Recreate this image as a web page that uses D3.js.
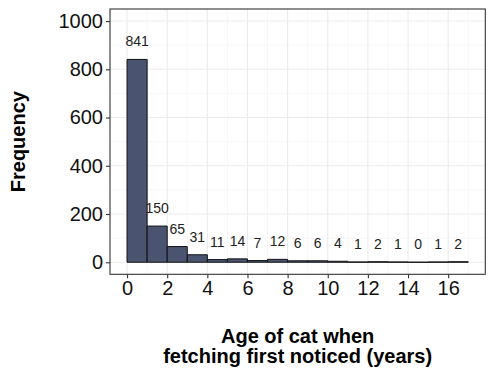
<!DOCTYPE html>
<html><head><meta charset="utf-8">
<script src="https://cdn.jsdelivr.net/npm/d3@7"></script>
<style>body{margin:0;background:#fff}svg{display:block}</style>
</head><body>
<svg id="c" width="496" height="374"></svg>
<script>
const binStarts = [0,1,2,3,4,5,6,7,8,9,10,11,12,13,14,15,16];
const counts = [841,150,65,31,11,14,7,12,6,6,4,1,2,1,0,1,2];
const xTicks = [0,2,4,6,8,10,12,14,16];
const yTicks = [0,200,400,600,800,1000];
const xTitle = ["Age of cat when","fetching first noticed (years)"];
const yTitle = "Frequency";

const svg = d3.select("#c");
const L=110, R=485.3, T=9, B=274.3;
const x = d3.scaleLinear().domain([-0.85,17.85]).range([L,R]);
const y = d3.scaleLinear().domain([-50,1050]).range([B,T]);
const font = "Liberation Sans, Arial, sans-serif";

// grid
const g = svg.append("g");
const minorX = d3.range(1,18,2), minorY = d3.range(100,1001,200);
g.selectAll(".mx").data(minorX).enter().append("line")
 .attr("x1",d=>x(d)).attr("x2",d=>x(d)).attr("y1",T).attr("y2",B)
 .attr("stroke","#f2f2f2").attr("stroke-width",0.6);
g.selectAll(".my").data(minorY).enter().append("line")
 .attr("y1",d=>y(d)).attr("y2",d=>y(d)).attr("x1",L).attr("x2",R)
 .attr("stroke","#f2f2f2").attr("stroke-width",0.6);
g.selectAll(".gx").data(xTicks).enter().append("line")
 .attr("x1",d=>x(d)).attr("x2",d=>x(d)).attr("y1",T).attr("y2",B)
 .attr("stroke","#ebebeb").attr("stroke-width",1.1);
g.selectAll(".gy").data(yTicks).enter().append("line")
 .attr("y1",d=>y(d)).attr("y2",d=>y(d)).attr("x1",L).attr("x2",R)
 .attr("stroke","#ebebeb").attr("stroke-width",1.1);

// bars (paths so zero-height bins still show their outline)
svg.append("g").selectAll("path").data(binStarts).enter().append("path")
 .attr("d",(d,i)=>{
   const x0=x(d), x1=x(d+1), y0=y(0), y1=y(counts[i]);
   return `M${x0},${y0}L${x0},${y1}L${x1},${y1}L${x1},${y0}Z`;
 })
 .attr("fill","#4a5470").attr("stroke","#111").attr("stroke-width",1);

// labels
svg.append("g").selectAll("text").data(binStarts).enter().append("text")
 .attr("x",d=>x(d+0.5)).attr("y",(d,i)=>y(counts[i])-13)
 .attr("text-anchor","middle").attr("font-family",font).attr("font-size",14)
 .attr("fill","#222").text((d,i)=>counts[i]);

// border
svg.append("rect").attr("x",L).attr("y",T).attr("width",R-L).attr("height",B-T)
 .attr("fill","none").attr("stroke","#333").attr("stroke-width",1.1);

// axes
const xa = svg.append("g").attr("transform",`translate(0,${B})`)
 .call(d3.axisBottom(x).tickValues(xTicks).tickSize(4).tickPadding(3).tickFormat(d3.format("d")));
const ya = svg.append("g").attr("transform",`translate(${L},0)`)
 .call(d3.axisLeft(y).tickValues(yTicks).tickSize(4).tickPadding(3).tickFormat(d3.format("d")));
[xa,ya].forEach(a=>{
 a.select(".domain").remove();
 a.selectAll(".tick line").attr("stroke","#333").attr("stroke-width",1.1);
 a.selectAll(".tick text").attr("font-family",font).attr("font-size",20).attr("fill","#111");
});

// titles
const xt = svg.append("text").attr("x",(L+R)/2).attr("y",343)
 .attr("text-anchor","middle").attr("font-family",font).attr("font-weight","bold")
 .attr("font-size",20).attr("fill","#000");
xTitle.forEach((t,i)=>xt.append("tspan").attr("x",(L+R)/2).attr("dy",i?20:0).text(t));
svg.append("text").attr("transform",`translate(25,${(T+B)/2}) rotate(-90)`)
 .attr("text-anchor","middle").attr("font-family",font).attr("font-weight","bold")
 .attr("font-size",20).attr("fill","#000").text(yTitle);
</script>
</body></html>
